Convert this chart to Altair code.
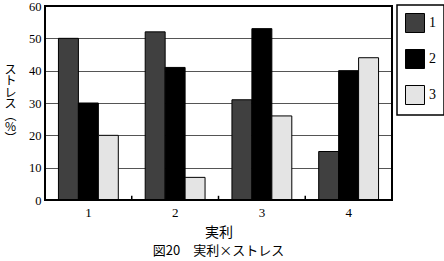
import altair as alt
import pandas as pd

groups = ["1", "2", "3", "4"]
series = ["1", "2", "3"]
values_s1 = [50, 52, 31, 15]
values_s2 = [30, 41, 53, 40]
values_s3 = [20, 7, 26, 44]
y_ticks = [0, 10, 20, 30, 40, 50, 60]
colors = ["#404040", "#000000", "#e4e4e4"]

rows = []
for i, g in enumerate(groups):
    for s, vals in zip(series, [values_s1, values_s2, values_s3]):
        rows.append({"group": g, "series": s, "value": vals[i]})
df = pd.DataFrame(rows)
bounds = pd.DataFrame({"group": groups[:-1], "y0": [0] * 3, "y1": [1.3] * 3})

FONT = "Liberation Serif"
JP = "Noto Sans CJK JP"
W, H = 347, 194

xscale = alt.Scale(domain=groups, paddingInner=0.31, paddingOuter=0.155)
yscale = alt.Scale(domain=[0, 60], nice=False)
yaxis = alt.Axis(values=y_ticks, title=["ス", "ト", "レ", "ス", "︵", "%", "︶"],
                 titleAngle=0, titleFont=JP, titleFontSize=12, titleFontWeight="normal",
                 titleLineHeight=11.5, titleBaseline="middle", titleAlign="center",
                 titleX=-35, titleY=63,
                 labelFont=FONT, labelFontSize=12.5, labelPadding=4, ticks=False,
                 domain=False, grid=True, gridColor="#555555", gridWidth=1,
                 labelColor="black", titleColor="black")

bars = alt.Chart(df).mark_bar(stroke="black", strokeWidth=1).encode(
    x=alt.X("group:N", scale=xscale, sort=groups,
            axis=alt.Axis(title="実利", labelAngle=0, ticks=False, domain=False,
                          labelFont=FONT, labelFontSize=13, labelPadding=6,
                          titleFont=JP, titleFontSize=14, titleFontWeight="normal",
                          titlePadding=6, labelColor="black", titleColor="black")),
    xOffset=alt.XOffset("series:N", sort=series, scale=alt.Scale(paddingInner=0, paddingOuter=0)),
    y=alt.Y("value:Q", scale=yscale, axis=yaxis),
    fill=alt.Fill("series:N", sort=series,
                  scale=alt.Scale(domain=series, range=colors),
                  legend=alt.Legend(title=None, orient="none", legendX=352, legendY=-1,
                                    symbolType="square", symbolSize=361,
                                    symbolStrokeColor="black", symbolStrokeWidth=1,
                                    symbolOpacity=1, labelFont=FONT, labelFontSize=14,
                                    labelColor="black",
                                    labelOffset=4, rowPadding=12, padding=8,
                                    strokeColor="black")),
)

ticks = alt.Chart(bounds).mark_rule(color="black", strokeWidth=1.5).encode(
    x=alt.X("group:N", bandPosition=1, sort=groups,
            scale=alt.Scale(domain=groups, paddingInner=0, paddingOuter=0), axis=None),
    y=alt.Y("y0:Q", scale=yscale, axis=yaxis),
    y2="y1:Q",
)

frame = alt.Chart(bounds).mark_rect(fill=None, stroke="black", strokeWidth=2).encode(
    x=alt.value(0), x2=alt.value(W), y=alt.value(0), y2=alt.value(H),
)

chart = alt.layer(bars, ticks, frame).resolve_scale(x="independent").properties(
    width=W, height=H,
    padding={"left": 45, "top": 6, "right": 52, "bottom": 61},
    autosize=alt.AutoSizeParams(type="none"),
    title=alt.TitleParams("図20　実利×ストレス", orient="bottom", font=JP, fontSize=13,
                          fontWeight="normal", offset=6, color="black"),
).configure_view(stroke=None).configure(background="white"
).configure_legend(strokeWidth=1.5)

chart.save("out.html", embed_options={"renderer": "svg", "actions": False})
